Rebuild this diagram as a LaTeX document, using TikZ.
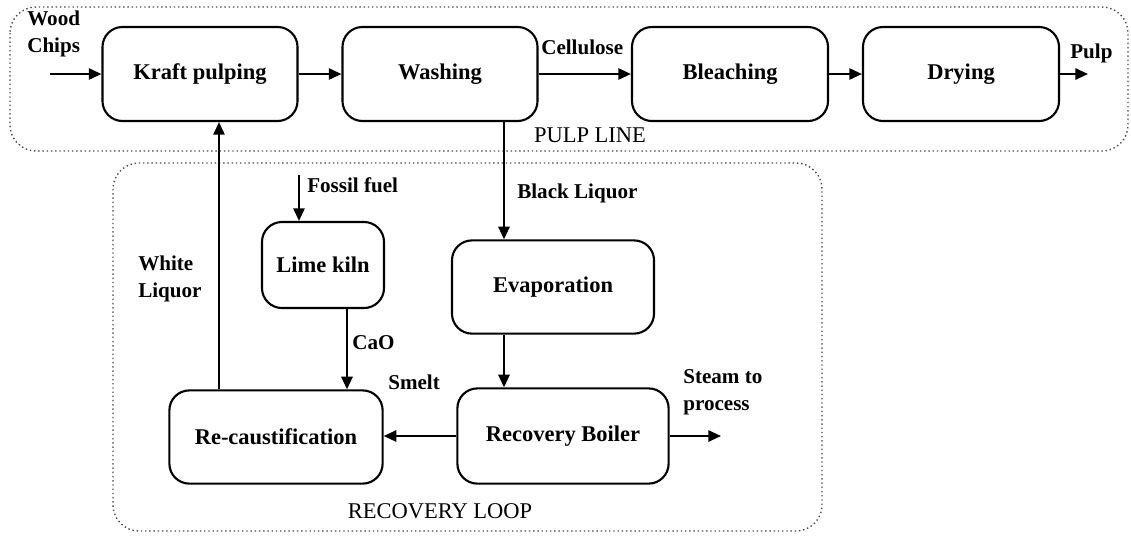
\documentclass[tikz,border=0pt]{standalone}
\usepackage{fontspec}
\setmainfont{Liberation Serif}
\usetikzlibrary{arrows.meta, positioning}

\begin{document}
\begin{tikzpicture}[
    x=0.025cm, y=-0.025cm,
    >={Triangle[length=9pt, width=8pt]},
  ]
  \tikzset{
    unit/.style = {draw, line width=1.5pt, rounded corners=0.5cm,
                   font=\fontsize{16}{19}\selectfont\bfseries, align=center},
    flow/.style = {->, line width=1.5pt},
    lbl/.style  = {font=\fontsize{15}{19}\selectfont\bfseries, align=left, inner sep=0pt},
    zone/.style = {draw, gray!60!black, dotted, line width=1pt, rounded corners=0.65cm},
    zonelbl/.style = {font=\fontsize{16}{19}\selectfont, inner sep=0pt},
  }
  \useasboundingbox (0,0) rectangle (1131,535);

  % Zones
  \draw[zone] (10,7) rectangle (1128,151);
  \draw[zone] (113,163) rectangle (822,531);
  \node[zonelbl] (pulpline) at (590,135) {PULP LINE};
  \node[zonelbl] (recloop) at (440,511) {RECOVERY LOOP};

  % Pulp line
  \node[unit, minimum width=4.875cm, minimum height=2.35cm] (kraft) at (200,74) {Kraft pulping};
  \node[unit, minimum width=4.875cm, minimum height=2.35cm] (washing) at (440,74) {Washing};
  \node[unit, minimum width=4.9cm, minimum height=2.35cm] (bleaching) at (730,74) {Bleaching};
  \node[unit, minimum width=4.9cm, minimum height=2.35cm] (drying) at (961,74) {Drying};

  % Recovery loop
  \node[unit, minimum width=3.05cm, minimum height=2.15cm] (limekiln) at (323,265) {Lime kiln};
  \node[unit, minimum width=5.05cm, minimum height=2.33cm] (evap) at (553,287) {Evaporation};
  \node[unit, minimum width=5.33cm, minimum height=2.33cm] (recaust) at (276,437) {Re-caustification};
  \node[unit, minimum width=5.28cm, minimum height=2.38cm] (boiler) at (563,436) {Recovery Boiler};

  % Free ends
  \coordinate (chipsin) at (50,74);
  \coordinate (pulpout) at (1088,74);
  \coordinate (fuelin) at (299,175);
  \coordinate (steamout) at (721,436);
  \coordinate (wl) at (219,0);
  \coordinate (bl) at (504,0);
  \coordinate (cao) at (347,0);

  % Labels
  \node[lbl, anchor=west] (chipslbl) at (27,34) {Wood\\Chips};
  \node[lbl, anchor=west] (cellulbl) at (541,47) {Cellulose};
  \node[lbl, anchor=west] (pulplbl) at (1070,53) {Pulp};
  \node[lbl, anchor=west] (fuellbl) at (307,185) {Fossil fuel};
  \node[lbl, anchor=west] (bllbl) at (517,193) {Black Liquor};
  \node[lbl, anchor=west] (wllbl) at (138,279) {White\\Liquor};
  \node[lbl, anchor=west] (caolbl) at (352,343) {CaO};
  \node[lbl, anchor=west] (smeltlbl) at (388,382) {Smelt};
  \node[lbl, anchor=west] (steamlbl) at (683,392) {Steam to\\process};

  % Pulp line flows
  \draw[flow] (chipsin) -- (kraft.west);
  \draw[flow] (kraft) -- (washing);
  \draw[flow] (washing) -- (bleaching);
  \draw[flow] (bleaching) -- (drying);
  \draw[flow] (drying.east) -- (pulpout);

  % Recovery loop flows
  \draw[flow] (washing.south -| bl) -- (evap.north -| bl);
  \draw[flow] (evap.south -| bl) -- (boiler.north -| bl);
  \draw[flow] (boiler.west) -- (recaust.east |- boiler.west);
  \draw[flow] (boiler.east) -- (steamout);
  \draw[flow] (fuelin) -- (limekiln.north -| fuelin);
  \draw[flow] (limekiln.south -| cao) -- (recaust.north -| cao);
  \draw[flow] (recaust.north -| wl) -- (kraft.south -| wl);

\end{tikzpicture}
\end{document}
